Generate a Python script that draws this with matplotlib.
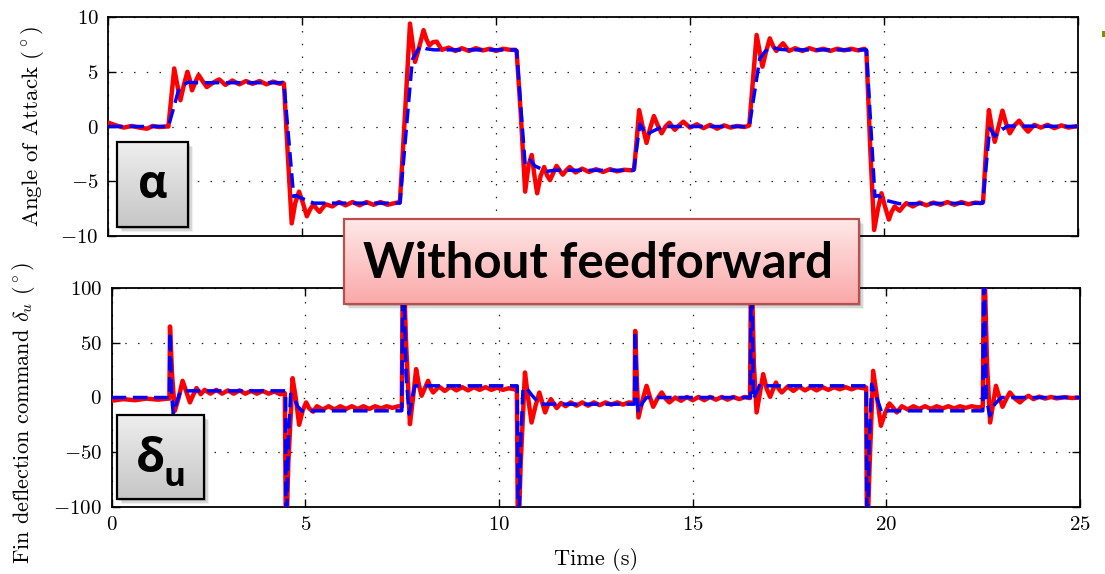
import numpy as np
import matplotlib
matplotlib.use("Agg")
from matplotlib import pyplot as plt
from matplotlib.patches import Rectangle

# ---- data: (time s, value) ----
alpha_red_pts = [
    (0.0, 0.35), (0.2, 0.1), (0.4, -0.1), (0.6, 0.05), (0.8, -0.1), (1.0, -0.2), (1.15, 0.05), (1.3, -0.05), (1.5, 0.0),
    (1.55, 0.0), (1.62, 2.5), (1.70, 5.3), (1.78, 3.8), (1.86, 2.4), (1.95, 3.8), (2.04, 5.0), (2.10, 4.3), (2.16, 3.3),
    (2.25, 4.1), (2.33, 4.7), (2.44, 4.1), (2.54, 3.6), (2.7, 4.0), (2.86, 4.3), (3.02, 3.8), (3.2, 4.2), (3.38, 3.85),
    (3.55, 4.15), (3.72, 3.9), (3.9, 4.15), (4.08, 3.85), (4.25, 4.1), (4.42, 3.9), (4.5, 4.0),
    (4.53, 3.9), (4.62, -2.0), (4.73, -8.85), (4.82, -7.0), (4.92, -5.95), (5.02, -7.0), (5.12, -8.2), (5.2, -7.6),
    (5.29, -7.1), (5.37, -7.5), (5.45, -7.8), (5.6, -7.1), (5.78, -7.3), (5.95, -6.9), (6.12, -7.2), (6.3, -6.9),
    (6.48, -7.2), (6.66, -6.9), (6.84, -7.15), (7.02, -6.9), (7.2, -7.15), (7.38, -7.0), (7.52, -6.9),
    (7.65, 1.0), (7.78, 9.4), (7.85, 7.5), (7.91, 5.9), (8.0, 7.0), (8.13, 8.8), (8.2, 8.0), (8.28, 7.4), (8.37, 7.7),
    (8.47, 7.75), (8.6, 7.0), (8.78, 7.2), (8.95, 6.9), (9.12, 7.15), (9.3, 6.9), (9.48, 7.15), (9.66, 6.95),
    (9.84, 7.1), (10.0, 6.9), (10.18, 7.1), (10.36, 7.0), (10.5, 7.0),
    (10.53, 6.9), (10.64, 1.0), (10.75, -5.95), (10.84, -3.5), (10.92, -2.6), (10.99, -4.5), (11.06, -6.1),
    (11.15, -4.5), (11.24, -3.7), (11.32, -4.5), (11.39, -4.9), (11.48, -4.2), (11.56, -3.6), (11.64, -4.0),
    (11.72, -4.4), (11.81, -4.0), (11.9, -3.7), (12.05, -4.2), (12.22, -3.85), (12.4, -4.15), (12.58, -3.9),
    (12.76, -4.15), (12.94, -3.9), (13.12, -4.1), (13.3, -3.95), (13.5, -4.0),
    (13.56, -3.9), (13.62, -1.5), (13.69, 1.5), (13.78, 0.0), (13.88, -1.5), (13.97, -0.2), (14.07, 0.96),
    (14.17, 0.1), (14.27, -0.62), (14.37, 0.0), (14.47, 0.35), (14.54, 0.0), (14.61, -0.3), (14.72, 0.1),
    (14.83, 0.44), (15.0, -0.1), (15.18, 0.2), (15.35, -0.15), (15.52, 0.15), (15.7, -0.2), (15.88, 0.1),
    (16.05, -0.1), (16.22, 0.05), (16.4, -0.05), (16.5, 0.05),
    (16.53, 0.1), (16.62, 4.0), (16.72, 8.36), (16.8, 6.8), (16.87, 5.46), (16.96, 6.8), (17.06, 8.05), (17.15, 7.3),
    (17.23, 6.9), (17.32, 7.3), (17.4, 7.6), (17.55, 6.9), (17.72, 7.15), (17.9, 6.9), (18.08, 7.15), (18.26, 6.95),
    (18.44, 7.1), (18.62, 6.9), (18.8, 7.1), (18.98, 6.95), (19.16, 7.1), (19.34, 6.95), (19.5, 7.1),
    (19.55, 6.9), (19.65, -2.0), (19.75, -9.45), (19.85, -7.5), (19.94, -6.1), (20.03, -7.3), (20.13, -8.5),
    (20.2, -7.8), (20.28, -7.3), (20.34, -7.5), (20.41, -7.7), (20.5, -7.3), (20.58, -7.0), (20.75, -7.3),
    (20.92, -6.95), (21.1, -7.2), (21.28, -6.95), (21.46, -7.15), (21.64, -6.9), (21.82, -7.15), (22.0, -6.9),
    (22.18, -7.1), (22.36, -6.95), (22.5, -7.0),
    (22.56, -6.9), (22.63, -2.5), (22.71, 1.5), (22.78, 0.0), (22.86, -1.4), (22.96, 0.0), (23.06, 1.45),
    (23.15, 0.3), (23.25, -0.62), (23.37, 0.1), (23.49, 0.53), (23.6, 0.0), (23.72, -0.47), (23.88, 0.15),
    (24.05, -0.1), (24.22, 0.15), (24.4, -0.15), (24.58, 0.1), (24.76, -0.1), (25.0, 0.05),
]

alpha_blue_pts = [
    (0.0, 0.0), (1.55, 0.0), (1.81, 3.3), (1.9, 3.7), (2.06, 4.05), (2.2, 4.0), (4.5, 4.0),
    (4.53, 3.9), (4.78, -6.4), (4.85, -6.3), (4.95, -6.5), (5.3, -7.0), (7.52, -7.0),
    (7.84, 6.1), (7.95, 6.8), (8.04, 7.3), (8.2, 7.1), (8.4, 7.0), (10.5, 7.0),
    (10.53, 6.9), (10.75, -3.5), (10.88, -3.06), (11.0, -3.6), (11.3, -4.1), (11.5, -4.0), (13.55, -4.0),
    (13.71, 0.2), (13.8, -0.3), (13.88, -0.78), (14.0, -0.5), (14.3, 0.0), (16.53, 0.0),
    (16.8, 6.2), (16.95, 6.9), (17.1, 7.25), (17.3, 7.05), (17.5, 7.0), (19.55, 7.0),
    (19.77, -6.4), (19.85, -6.3), (20.0, -6.7), (20.4, -7.05), (22.55, -7.0),
    (22.73, -0.17), (22.8, -0.5), (22.86, -0.9), (23.0, -0.4), (23.2, 0.05), (25.0, 0.0),
]

delta_red_pts = [
    (0.0, -3), (0.3, -1.5), (0.6, -2.5), (0.9, -1.0), (1.2, -2.0), (1.45, -1.0),
    (1.49, -1.0), (1.505, 65), (1.56, 20), (1.63, -12.2), (1.73, 0), (1.83, 15.3), (1.93, 5), (2.02, -4.5),
    (2.1, 2), (2.19, 8.6), (2.3, 3), (2.4, 7), (2.55, 3.5), (2.7, 7), (2.85, 3.5), (3.0, 6.5), (3.15, 3.5),
    (3.3, 6.5), (3.45, 3.5), (3.6, 6), (3.75, 3.5), (3.9, 6), (4.05, 3.5), (4.2, 5.5), (4.35, 3.0), (4.45, 4.0),
    (4.47, 4), (4.50, -140), (4.56, -60), (4.67, 17.7), (4.75, 0), (4.84, -25), (4.93, -12), (5.02, -4.5),
    (5.1, -10), (5.2, -13), (5.3, -8), (5.45, -11), (5.6, -8), (5.75, -11), (5.9, -8), (6.05, -10.5), (6.2, -8),
    (6.35, -10.5), (6.5, -8), (6.65, -10.5), (6.8, -8), (6.95, -10), (7.1, -8), (7.25, -9.5), (7.4, -8), (7.47, -8.5),
    (7.49, -8.5), (7.52, 140), (7.6, 50), (7.70, -24.4), (7.78, 0), (7.86, 26), (7.93, 12), (8.0, 1.6), (8.08, 8),
    (8.17, 15.3), (8.24, 8), (8.3, 4.6), (8.45, 10), (8.6, 6), (8.75, 10), (8.9, 6.5), (9.05, 9.5), (9.2, 6.5),
    (9.35, 9.5), (9.5, 7), (9.65, 9.5), (9.8, 7), (9.95, 9), (10.1, 7), (10.25, 8.5), (10.4, 7.5), (10.44, 7.7),
    (10.46, 7.7), (10.49, -140), (10.56, -60), (10.67, 22.9), (10.75, 0), (10.84, -22.9), (10.94, -8), (11.04, 4.6),
    (11.12, -5), (11.19, -13.7), (11.27, -6), (11.34, -1.5), (11.42, -6), (11.49, -9.7), (11.6, -5), (11.72, -8),
    (11.85, -4.5), (12.0, -7.5), (12.15, -4.5), (12.3, -7.5), (12.45, -4.5), (12.6, -7), (12.75, -4.5), (12.9, -6.5),
    (13.05, -4.5), (13.2, -6.5), (13.35, -4.5), (13.48, -5),
    (13.5, -5), (13.515, 61), (13.56, 15), (13.6, -18.3), (13.7, -3), (13.81, 10.7), (13.9, 0), (13.98, -8.5),
    (14.09, -1), (14.2, 4.6), (14.3, -1), (14.4, -4.5), (14.55, 0), (14.7, -3), (14.85, 0.5), (15.0, -2.5),
    (15.15, 0.5), (15.3, -2.5), (15.45, 0.5), (15.6, -2), (15.75, 0.5), (15.9, -2), (16.05, 0.5), (16.2, -1.5),
    (16.35, 0.5), (16.46, -0.5),
    (16.48, -0.5), (16.51, 140), (16.58, 30), (16.65, -13.7), (16.74, 5), (16.82, 21.4), (16.91, 8), (17.0, 0.6),
    (17.08, 8), (17.15, 13.7), (17.22, 8), (17.3, 4.6), (17.45, 10), (17.6, 6), (17.75, 10), (17.9, 6.5),
    (18.05, 9.5), (18.2, 6.5), (18.35, 9.5), (18.5, 7), (18.65, 9.5), (18.8, 7.5), (18.95, 9.5), (19.1, 7.5),
    (19.25, 9.5), (19.4, 8.5), (19.46, 9.2),
    (19.48, 9.2), (19.5, -140), (19.57, -60), (19.66, 24.4), (19.76, 0), (19.86, -25.9), (19.97, -14), (20.08, -5.5),
    (20.17, -9), (20.27, -13.7), (20.4, -8), (20.55, -11), (20.7, -8), (20.85, -10.5), (21.0, -8), (21.15, -10.5),
    (21.3, -8), (21.45, -10), (21.6, -8), (21.75, -10), (21.9, -8), (22.05, -9.5), (22.2, -8), (22.35, -9), (22.47, -8.5),
    (22.49, -8.5), (22.52, 140), (22.6, 30), (22.68, -22.9), (22.76, -5), (22.83, 10.7), (22.92, 0), (23.0, -8.5),
    (23.1, -1), (23.19, 4.6), (23.32, -1), (23.45, -4.5), (23.56, -1), (23.67, 1.6), (23.8, -1.5), (23.95, 0.8),
    (24.1, -1), (24.25, 0.5), (24.4, -0.8), (24.6, 0.3), (24.8, -0.5), (25.0, 0),
]

delta_blue_pts = [
    (0.0, 0), (1.49, 0), (1.505, 59.5), (1.55, 0), (1.59, -15), (1.67, -5), (1.75, 3), (1.8, 6.1), (4.47, 6.1),
    (4.49, 6), (4.50, -140), (4.56, -40), (4.62, 3), (4.7, 0), (4.8, -8), (4.9, -12.2), (7.47, -12.2),
    (7.49, -12), (7.52, 140), (7.6, 20), (7.68, -15.2), (7.76, 0), (7.83, 10.7), (10.44, 10.7),
    (10.47, 10.7), (10.5, -140), (10.56, -40), (10.62, 8), (10.7, 9), (10.85, 2), (11.06, -6.1), (13.49, -6.1),
    (13.5, -6), (13.515, 61), (13.56, 0), (13.6, -13.7), (13.7, -5), (13.81, 0), (16.47, 0),
    (16.49, 0), (16.51, 140), (16.57, -1.5), (16.65, 5), (16.74, 12.2), (16.85, 10.7), (19.46, 10.7),
    (19.48, 10.7), (19.5, -140), (19.56, -40), (19.62, 12.2), (19.75, 0), (19.88, -13.7), (20.0, -12.2), (22.47, -12.2),
    (22.49, -12.2), (22.52, 140), (22.58, 0), (22.67, -16.8), (22.8, -6), (22.97, 0), (25.0, 0),
]

x_ticks = [0, 5, 10, 15, 20, 25]
alpha_ticks = [-10, -5, 0, 5, 10]
delta_ticks = [-100, -50, 0, 50, 100]

plt.rcParams['font.family'] = 'cmr10'
plt.rcParams['mathtext.fontset'] = 'cm'
plt.rcParams['axes.formatter.use_mathtext'] = True

W, H = 1105, 574
fig = plt.figure(figsize=(W / 100, H / 100), dpi=100)

def fx(x):
    return x / W

def fy(y):
    return 1 - y / H

def px_axes(x0, y0, x1, y1):
    return [fx(x0), fy(y1), (x1 - x0) / W, (y1 - y0) / H]

def rgb(c):
    return tuple(v / 255 for v in c)

ax1 = fig.add_axes(px_axes(108.3, 17, 1077.7, 236))
ax2 = fig.add_axes(px_axes(111.7, 288.3, 1080, 506.7))

def draw(ax, red_pts, blue_pts):
    t, v = zip(*red_pts)
    ax.plot(t, v, color='red', lw=3.2, solid_joinstyle='round', zorder=3)
    t, v = zip(*blue_pts)
    ax.plot(t, v, color='blue', lw=2.5, dashes=(4.2, 1.9), zorder=4)
    ax.set_xlim(0, 25)
    ax.set_xticks(x_ticks)
    ax.tick_params(direction='in', top=True, right=True, length=6, width=1, labelsize=15, pad=7)
    ax.grid(True, color='0.15', linestyle=(0, (1.2, 9)), lw=0.9)
    for s in ax.spines.values():
        s.set_linewidth(1.3)

draw(ax1, alpha_red_pts, alpha_blue_pts)
ax1.set_ylim(-10, 10)
ax1.set_yticks(alpha_ticks)
ax1.tick_params(labelbottom=False)
ax1.set_ylabel(r'Angle of Attack ($^\circ$)', fontsize=16.5)
ax1.yaxis.set_label_coords(-0.064, 0.5)

draw(ax2, delta_red_pts, delta_blue_pts)
ax2.set_ylim(-100, 100)
ax2.set_yticks(delta_ticks)
ax2.set_ylabel(r'Fin deflection command $\delta_u$ ($^\circ$)', fontsize=16)
ax2.yaxis.set_label_coords(-0.077, 0.43)
ax2.set_xlabel('Time (s)', fontsize=16, labelpad=10)


def grad_box(x0, y0, x1, y1, top, bottom, edge, elw):
    # soft shadow under the box
    for k, a in [(5, 0.06), (3.5, 0.1), (2, 0.15)]:
        fig.patches.append(Rectangle((fx(x0 + k), fy(y1 + k)), (x1 - x0) / W, (y1 - y0) / H,
                                     transform=fig.transFigure, color='black', alpha=a, lw=0, zorder=2))
    ax = fig.add_axes(px_axes(x0, y0, x1, y1))
    ax.set_zorder(3)
    g = np.linspace(0, 1, 64)[:, None, None]
    img = np.array(top)[None, None, :] * (1 - g) + np.array(bottom)[None, None, :] * g
    ax.imshow(img / 255.0, aspect='auto', extent=[0, 1, 0, 1])
    ax.set_axis_off()
    ax.add_patch(Rectangle((0, 0), 1, 1, transform=ax.transAxes, fill=False, ec=edge, lw=elw, clip_on=False))
    return ax

grad_box(117, 142, 188, 227, (238, 238, 238), (198, 198, 198), 'black', 1.6)
fig.text(fx(153), fy(186), 'α', fontsize=33, fontweight='bold', family=['Open Sans', 'DejaVu Sans'],
         ha='center', va='center', zorder=5)

grad_box(117, 415, 204, 499, (238, 238, 238), (198, 198, 198), 'black', 1.6)
fig.text(fx(151), fy(459), 'δ', fontsize=34, fontweight='bold', family=['Open Sans', 'DejaVu Sans'],
         ha='center', va='center', zorder=5)
fig.text(fx(175), fy(478), 'u', fontsize=24, fontweight='bold', family=['Open Sans', 'DejaVu Sans'],
         ha='center', va='center', zorder=5)

grad_box(344, 219, 859, 304, (255, 232, 232), (250, 168, 168), rgb((185, 80, 80)), 1.6)
fig.text(fx(598), fy(263), 'Without feedforward', fontsize=35.5, fontweight='bold',
         family=['Lato', 'DejaVu Sans'], ha='center', va='center', zorder=5)

fig.patches.append(Rectangle((fx(1102), fy(37)), 3 / W, 6 / H, transform=fig.transFigure,
                             color=rgb((118, 146, 0)), lw=0))

fig.savefig('out.png', dpi=100)
